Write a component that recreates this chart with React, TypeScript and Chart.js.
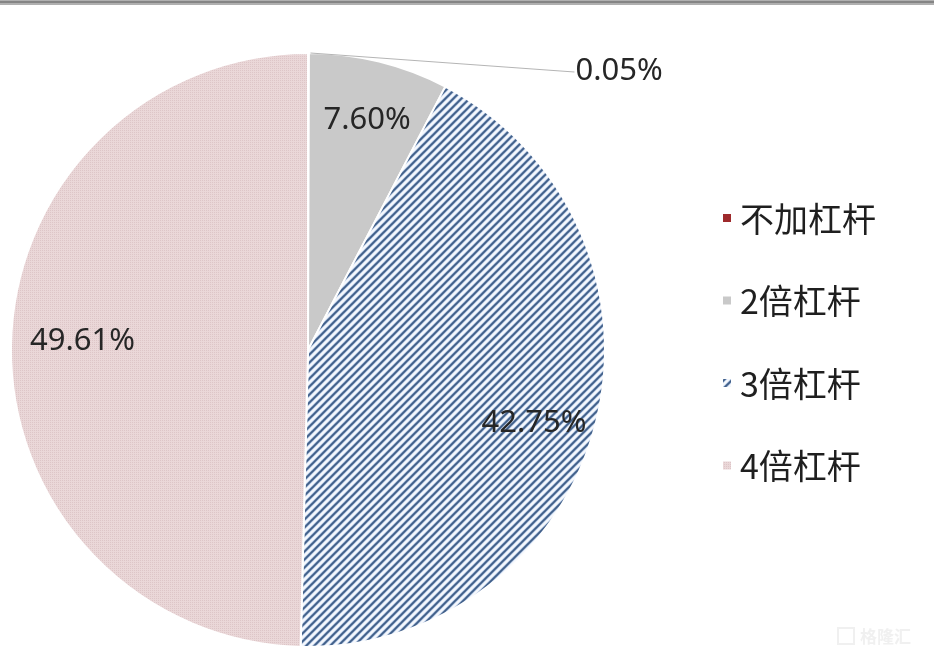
import React, { useEffect, useRef } from "react";
import { Chart, registerables } from "chart.js";

Chart.register(...registerables);

const categories = ["不加杠杆", "2倍杠杆", "3倍杠杆", "4倍杠杆"];
const shares = [0.05, 7.6, 42.75, 49.61];
const shareLabels = ["0.05%", "7.60%", "42.75%", "49.61%"];

const W = 934;
const H = 657;

function makeHatch(): CanvasPattern | string {
  const n = 8;
  const c = document.createElement("canvas");
  c.width = n;
  c.height = n;
  const g = c.getContext("2d");
  if (!g) return "#9aaccb";
  g.fillStyle = "#f7f9fd";
  g.fillRect(0, 0, n, n);
  const stroke = (color: string, w: number) => {
    g.strokeStyle = color;
    g.lineWidth = w;
    g.beginPath();
    g.moveTo(-1, n + 1);
    g.lineTo(n + 1, -1);
    g.moveTo(-2, 2);
    g.lineTo(2, -2);
    g.moveTo(n - 2, n + 2);
    g.lineTo(n + 2, n - 2);
    g.stroke();
  };
  stroke("#b9cbe6", 3.4);
  stroke("#3f5e88", 1.9);
  return g.createPattern(c, "repeat") || "#9aaccb";
}

function makeDots(): CanvasPattern | string {
  const n = 4;
  const c = document.createElement("canvas");
  c.width = n;
  c.height = n;
  const g = c.getContext("2d");
  if (!g) return "#e8d4d5";
  g.fillStyle = "#ead7d8";
  g.fillRect(0, 0, n, n);
  g.fillStyle = "#ddc5c7";
  g.fillRect(0, 0, 1, 1);
  g.fillRect(2, 2, 1, 1);
  g.fillRect(2, 0, 1, 1);
  g.fillRect(0, 2, 1, 1);
  return g.createPattern(c, "repeat") || "#e8d4d5";
}

const overlay = {
  id: "overlay",
  beforeDraw(chart: any) {
    const ctx = chart.ctx as CanvasRenderingContext2D;
    ctx.save();
    ctx.fillStyle = "#ffffff";
    ctx.fillRect(0, 0, W, H);
    ctx.fillStyle = "#b0b0b0";
    ctx.fillRect(0, 0, W, 5);
    ctx.fillStyle = "#858585";
    ctx.fillRect(0, 1, W, 2);
    ctx.restore();
  },
  afterDraw(chart: any) {
    const ctx = chart.ctx as CanvasRenderingContext2D;
    const meta = chart.getDatasetMeta(0);
    const bg = chart.data.datasets[0].backgroundColor as any[];
    ctx.save();
    ctx.fillStyle = "#262626";
    ctx.textBaseline = "middle";
    ctx.font = '31px "Noto Sans", "DejaVu Sans", sans-serif';
    meta.data.forEach((arc: any, i: number) => {
      const p = arc.getProps(["x", "y", "startAngle", "endAngle", "outerRadius"], true);
      const mid = (p.startAngle + p.endAngle) / 2;
      if (i === 0) {
        const sx = p.x + p.outerRadius * Math.cos(mid) + 2;
        const sy = p.y + p.outerRadius * Math.sin(mid);
        const ex = sx + 264;
        const ey = sy + 19;
        ctx.strokeStyle = "#b5b5b5";
        ctx.lineWidth = 1.2;
        ctx.beginPath();
        ctx.moveTo(sx, sy);
        ctx.lineTo(ex, ey);
        ctx.stroke();
        ctx.textAlign = "left";
        ctx.fillText(shareLabels[i], ex + 1, ey - 1);
      } else {
        const r = p.outerRadius * 0.8;
        const a = i === 2 ? mid + 0.06 : i === 3 ? mid + 0.025 : mid + 0.01;
        ctx.textAlign = "center";
        ctx.fillText(shareLabels[i], p.x + r * Math.cos(a) + (i === 3 ? 12 : 0), p.y + r * Math.sin(a));
      }
    });

    // legend
    const lx = 723;
    const ly0 = 218;
    const step = 82.5;
    ctx.font = '34px "Noto Sans CJK SC", "Noto Sans", sans-serif';
    ctx.textAlign = "left";
    categories.forEach((name, i) => {
      const y = ly0 + i * step;
      ctx.fillStyle = bg[i];
      ctx.fillRect(lx, y - 4, 8, 8);
      ctx.fillStyle = "#1f1f1f";
      ctx.fillText(name, lx + 17, y + 1);
    });

    // watermark
    ctx.globalAlpha = 0.28;
    ctx.strokeStyle = "#c8c8c8";
    ctx.lineWidth = 2;
    ctx.strokeRect(838, 628, 16, 16);
    ctx.fillStyle = "#c8c8c8";
    ctx.font = 'bold 17px "Noto Sans CJK SC", sans-serif';
    ctx.fillText("格隆汇", 860, 637);
    ctx.restore();
  },
};

export default function App() {
  const ref = useRef<HTMLCanvasElement | null>(null);
  useEffect(() => {
    if (!ref.current) return;
    const colors = ["#9e2a2c", "#c9c9c9", makeHatch(), makeDots()];
    const chart = new Chart(ref.current, {
      type: "pie",
      data: {
        labels: categories,
        datasets: [
          {
            data: shares,
            backgroundColor: colors as any,
            borderColor: "#ffffff",
            borderWidth: 2,
          },
        ],
      },
      options: {
        responsive: false,
        maintainAspectRatio: false,
        animation: false,
        events: [],
        layout: { padding: { left: 10, top: 52, right: 328, bottom: 9 } },
        plugins: {
          legend: { display: false },
          tooltip: { enabled: false },
        },
      },
      plugins: [overlay],
    });
    return () => chart.destroy();
  }, []);
  return (
    <div style={{ position: "absolute", left: 0, top: 0, width: W, height: H, background: "#fff" }}>
      <canvas ref={ref} width={W} height={H} style={{ display: "block", width: W, height: H }} />
    </div>
  );
}
